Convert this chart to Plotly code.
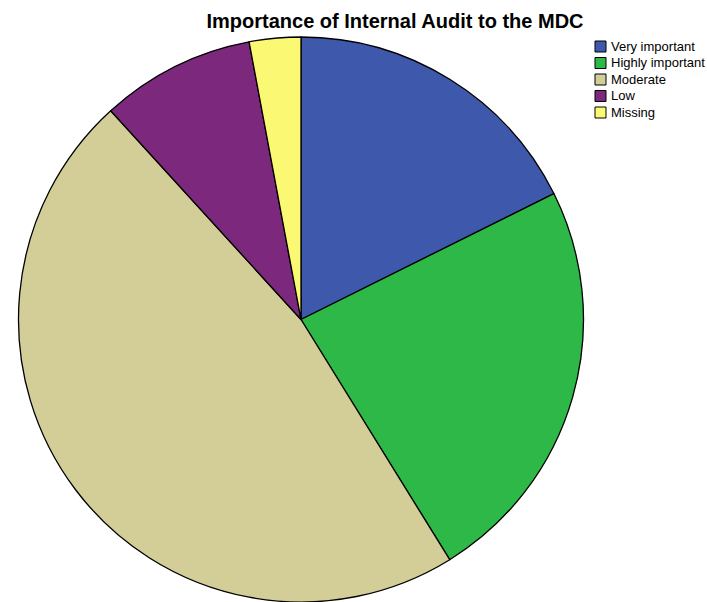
import plotly.graph_objects as go

# Survey responses: importance of internal audit to the MDC
categories = ["Very important", "Highly important", "Moderate", "Low", "Missing"]
counts = [6, 8, 16, 3, 1]
colors = ["#3E58AC", "#2EB848", "#D3CE97", "#7C287D", "#FBF873"]

W, H = 707, 602
cx, top = 301, 37          # pie centre x and top edge, in pixels
d = H - top                # pie diameter fills the space down to the bottom edge
FONT = "Liberation Sans, Arial, sans-serif"

fig = go.Figure(
    go.Pie(
        labels=categories,
        values=counts,
        sort=False,
        direction="clockwise",
        rotation=0,
        textinfo="none",
        hoverinfo="label+value+percent",
        showlegend=False,
        marker=dict(colors=colors, line=dict(color="#000000", width=1.3)),
        domain=dict(
            x=[(cx - d / 2) / W, (cx + d / 2) / W],
            y=[0, 1 - top / H],
        ),
    )
)

# Compact legend in the top-right corner: swatch + label per category
leg_x, leg_y0, leg_step, sw = 595, 46.5, 16.5, 11
shapes, annotations = [], []
for i, (name, col) in enumerate(zip(categories, colors)):
    yc = leg_y0 + i * leg_step
    shapes.append(dict(
        type="rect", xref="paper", yref="paper",
        x0=leg_x / W, x1=(leg_x + sw) / W,
        y0=1 - (yc + sw / 2) / H, y1=1 - (yc - sw / 2) / H,
        fillcolor=col, line=dict(color="#000000", width=1),
    ))
    annotations.append(dict(
        text=name, xref="paper", yref="paper",
        x=(leg_x + sw + 3) / W, y=1 - yc / H,
        xanchor="left", yanchor="middle", showarrow=False,
        font=dict(family=FONT, size=13, color="#000000"),
    ))

fig.update_layout(
    width=W,
    height=H,
    margin=dict(l=0, r=0, t=0, b=0, autoexpand=False),
    paper_bgcolor="white",
    plot_bgcolor="white",
    showlegend=False,
    shapes=shapes,
    annotations=annotations,
    title=dict(
        text="<b>Importance of Internal Audit to the MDC</b>",
        x=395 / W,
        xanchor="center",
        y=1 - 21 / H,
        yanchor="middle",
        font=dict(family=FONT, size=20, color="#000000"),
    ),
)

fig.write_html("out.html")
